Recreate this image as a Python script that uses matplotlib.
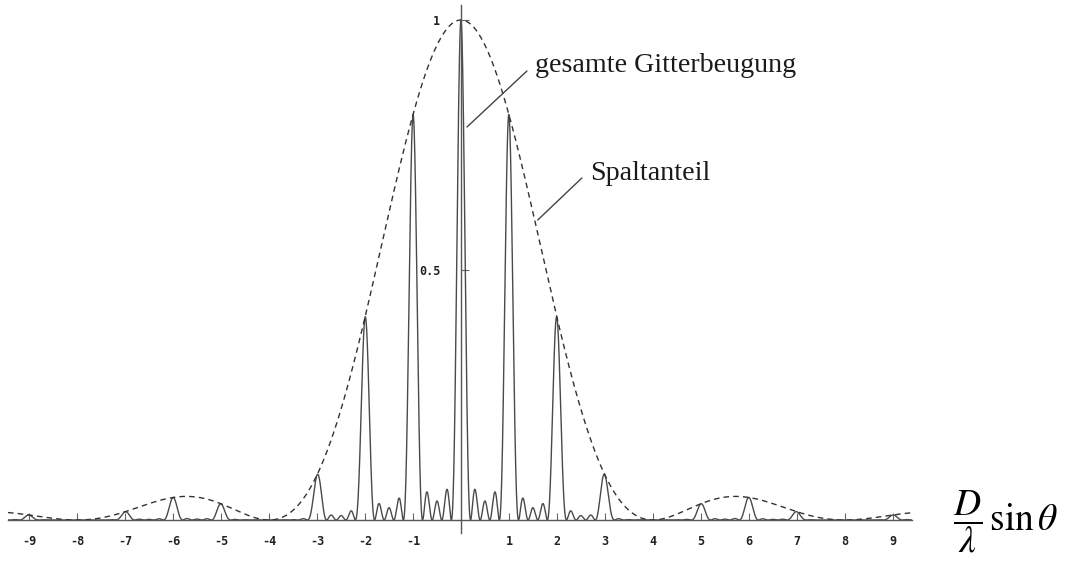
import numpy as np
import matplotlib.pyplot as plt

# Gitter: 5 Spalte, Spaltabstand D = 4 x Spaltbreite (fehlende 4. Ordnung)
N_SLITS = 5
D_OVER_B = 4
X_RANGE = (-9.44, 9.40)
X_TICKS = [-9, -8, -7, -6, -5, -4, -3, -2, -1, 1, 2, 3, 4, 5, 6, 7, 8, 9]
Y_TICKS = [0.5, 1.0]
Y_TICK_LABELS = ["0.5", "1"]
LABEL_GRATING = "gesamte Gitterbeugung"
LABEL_SLIT = "Spaltanteil"

plt.rcParams["axes.unicode_minus"] = False
plt.rcParams["mathtext.fontset"] = "stix"


def slit_envelope(x):
    # Einzelspalt: sinc^2
    return np.sinc(x / D_OVER_B) ** 2


def grating_factor(x):
    num = np.sin(N_SLITS * np.pi * x)
    den = N_SLITS * np.sin(np.pi * x)
    near = np.isclose(den, 0.0, atol=1e-9)
    out = np.where(near, 1.0, num / np.where(near, 1.0, den))
    return out ** 2


x = np.linspace(X_RANGE[0], X_RANGE[1], 7689)
x = np.union1d(x, np.arange(-9, 10))
envelope = slit_envelope(x)
intensity = envelope * grating_factor(x)

fig = plt.figure(figsize=(10.65, 5.63), dpi=100)
ax = fig.add_axes([8 / 1065, 30 / 563, 904 / 1065, 528 / 563])

ax.plot(x, intensity, color="#4a4a4a", lw=1.0)
ax.plot(x, envelope, color="#333333", lw=1.0, dashes=(4, 3))

ax.set_xlim(*X_RANGE)
ax.set_ylim(-0.026, 1.03)

for side in ("top", "right"):
    ax.spines[side].set_visible(False)
ax.spines["left"].set_position(("data", 0))
ax.spines["bottom"].set_position(("data", 0))
for side in ("left", "bottom"):
    ax.spines[side].set_color("#555555")
    ax.spines[side].set_linewidth(1.0)

ax.set_xticks(X_TICKS)
ax.set_xticklabels([str(t) for t in X_TICKS])
ax.set_yticks(Y_TICKS)
ax.set_yticklabels(Y_TICK_LABELS)
ax.tick_params(axis="x", direction="in", length=5, width=0.8, color="#666666",
               pad=11, labelsize=8.5)
ax.tick_params(axis="y", direction="in", length=6, width=0.8, color="#666666",
               pad=15, labelsize=8.5)
for lab in ax.get_xticklabels() + ax.get_yticklabels():
    lab.set_family("DejaVu Sans Mono")
    lab.set_fontweight("bold")
    lab.set_color("#222222")

# Beschriftungen mit Hinweislinien
line_kw = dict(arrowstyle="-", color="#444444", lw=1.0, shrinkA=0, shrinkB=0)
ax.annotate("", xy=(0.125, 0.786), xytext=(1.375, 0.898), arrowprops=line_kw)
ax.annotate("", xy=(1.60, 0.60), xytext=(2.52, 0.684), arrowprops=line_kw)
ax.text(1.54, 0.91, LABEL_GRATING, fontsize=20.2, family="Liberation Serif",
        va="center", ha="left", color="#1a1a1a")
ax.text(2.69, 0.694, LABEL_SLIT, fontsize=20.2, family="Liberation Serif",
        va="center", ha="left", color="#1a1a1a")

fig.text(953 / 1065, 1 - 522 / 563, r"$\dfrac{D}{\lambda}\,\sin\theta$",
         fontsize=27, ha="left", va="center", color="black")

fig.savefig("out.png", dpi=100)
